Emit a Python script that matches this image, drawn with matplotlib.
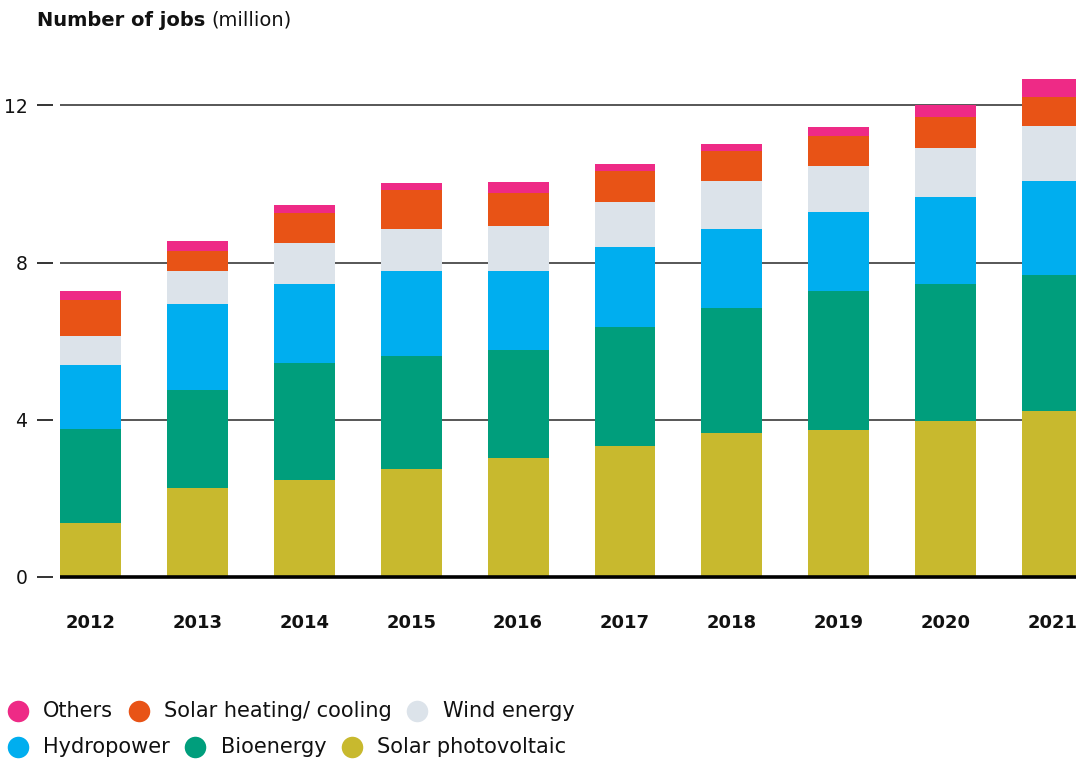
import numpy as np
import matplotlib
matplotlib.use('Agg')
import matplotlib.pyplot as plt
from matplotlib.lines import Line2D

# ──────────────────────────────────────────────
# Data: renewable energy jobs, million
# ──────────────────────────────────────────────
years = ['2012', '2013', '2014', '2015', '2016', '2017', '2018', '2019', '2020', '2021']

solar_pv      = [1.37, 2.26, 2.47, 2.75, 3.03, 3.33, 3.66, 3.74, 3.97, 4.22]
bioenergy     = [2.39, 2.49, 2.97, 2.87, 2.74, 3.03, 3.18, 3.53, 3.48, 3.46]
hydropower    = [1.63, 2.19, 2.01, 2.16, 2.01, 2.03, 2.01, 2.01, 2.21, 2.39]
wind          = [0.74, 0.84, 1.04, 1.07, 1.14, 1.14, 1.22, 1.17, 1.25, 1.40]
solar_heating = [0.91, 0.51, 0.76, 0.99, 0.84, 0.79, 0.76, 0.76, 0.79, 0.73]
others        = [0.23, 0.25, 0.21, 0.18, 0.28, 0.18, 0.18, 0.23, 0.30, 0.46]

y_ticks = [0, 4, 8, 12]

# stacking order bottom -> top
series = [
    ('Solar photovoltaic',     solar_pv,      '#C8B92E'),
    ('Bioenergy',              bioenergy,     '#009E7C'),
    ('Hydropower',             hydropower,    '#00AEEF'),
    ('Wind energy',            wind,          '#DCE3EA'),
    ('Solar heating/ cooling', solar_heating, '#E85316'),
    ('Others',                 others,        '#EE2A86'),
]

# legend rows as they appear under the chart
legend_rows = [
    ['Others', 'Solar heating/ cooling', 'Wind energy'],
    ['Hydropower', 'Bioenergy', 'Solar photovoltaic'],
]

# ──────────────────────────────────────────────
# Figure
# ──────────────────────────────────────────────
W, H = 1076, 762
fig = plt.figure(figsize=(W / 100, H / 100), dpi=100)
ax = fig.add_axes([53 / W, 185 / H, (W - 53) / W, 511 / H])

x = np.arange(len(years))
bw = 0.57
bottom = np.zeros(len(years))
for name, vals, col in series:
    ax.bar(x, vals, width=bw, bottom=bottom, color=col, linewidth=0, zorder=2)
    bottom += np.array(vals)

ax.set_xlim(-0.351, 9.219)
ax.set_ylim(0, 13)

# grid lines start at the first bar, baseline on top
ax.hlines([t for t in y_ticks if t > 0], -bw / 2, 10, color='#3a3a3a', lw=1.2, zorder=1)
ax.hlines(0, -bw / 2, 10, color='black', lw=2.6, zorder=3, clip_on=False)

for s in ax.spines.values():
    s.set_visible(False)

ax.set_xticks(x)
ax.set_xticklabels(years, fontsize=13, fontweight='bold', color='#111111')
ax.tick_params(axis='x', length=0, pad=27)

ax.set_yticks(y_ticks)
ax.set_yticklabels([str(t) for t in y_ticks], fontsize=13.5, color='#111111')
ax.tick_params(axis='y', length=11.5, width=1.4, color='#333333', pad=7)

# title: bold part + regular unit
fig.canvas.draw()
renderer = fig.canvas.get_renderer()
t1 = fig.text(37 / W, 1 - 20 / H, 'Number of jobs', fontsize=14, fontweight='bold',
              color='#111111', va='center', ha='left')
bb = t1.get_window_extent(renderer)
fig.text((bb.x1 + 6) / W, 1 - 20 / H, '(million)', fontsize=14,
         color='#111111', va='center', ha='left')

# legend drawn by hand, items flow left to right
colors = {name: col for name, _, col in series}
row_y = [711, 747]
for row, yp in zip(legend_rows, row_y):
    xp = 7
    for name in row:
        fig.add_artist(Line2D([(xp + 10.5) / W], [1 - yp / H], transform=fig.transFigure,
                              marker='o', markersize=15.5, color=colors[name],
                              markeredgewidth=0, linestyle='none'))
        t = fig.text((xp + 36) / W, 1 - yp / H, name, fontsize=15, color='#111111',
                     va='center', ha='left')
        tb = t.get_window_extent(renderer)
        xp = tb.x1 + 15

fig.savefig('out.png', dpi=100)
